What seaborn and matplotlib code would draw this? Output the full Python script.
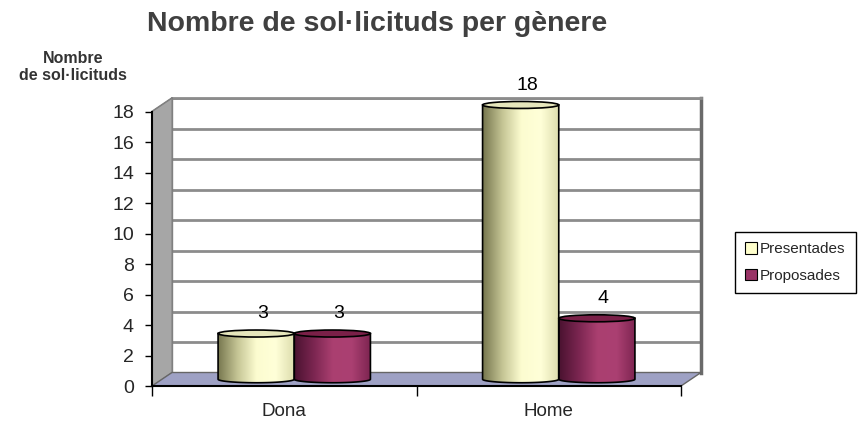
import numpy as np
import pandas as pd
import matplotlib
matplotlib.use("Agg")
import matplotlib.pyplot as plt
import seaborn as sns
from matplotlib.patches import Polygon, Ellipse, PathPatch, Patch
from matplotlib.lines import Line2D
from matplotlib.path import Path
from matplotlib.colors import LinearSegmentedColormap

# data
genere = ["Dona", "Home"]
series = ["Presentades", "Proposades"]
presentades = [3, 18]
proposades = [3, 4]
yticks = list(range(0, 20, 2))

df = pd.DataFrame({
    "genere": genere * 2,
    "tipus": [series[0]] * len(genere) + [series[1]] * len(genere),
    "valor": presentades + proposades,
})

sns.set_theme(style="white")
plt.rcParams["font.family"] = ["Liberation Sans", "DejaVu Sans"]

W, H = 865, 423
fig = plt.figure(figsize=(W / 100, H / 100), dpi=100)
fig.patch.set_facecolor("white")

# pseudo-3d box geometry (pixels from top-left)
x_left, x_right = 152, 681
y_zero, y_top = 386, 111.7
dx, dy = 20, -13.5
unit = (y_zero - y_top) / 18


def frac(x, y):
    return x / W, 1 - y / H


def box_axes(depth, ylo, yhi, z):
    left = x_left + depth * dx
    right = x_right + depth * dx
    ybot = y_zero + depth * dy - ylo * unit
    ytop = y_zero + depth * dy - yhi * unit
    l, b = frac(left, ybot)
    ax = fig.add_axes([l, b, (right - left) / W, (ybot - ytop) / H], zorder=z)
    ax.set_xlim(-0.5, len(genere) - 0.5)
    ax.set_ylim(ylo, yhi)
    return ax


# back wall with gridlines
ax_back = box_axes(1, 0, 18, 0)
ax_back.set_facecolor("white")
ax_back.set_yticks(yticks)
ax_back.set_xticks([])
ax_back.tick_params(left=False, labelleft=False)
ax_back.grid(axis="y", color="#8c8c8c", lw=2)
ax_back.spines["bottom"].set_visible(False)
ax_back.spines["top"].set(color="#8c8c8c", lw=2)
ax_back.spines["left"].set(color="#808080", lw=1)
ax_back.spines["right"].set(color="#6a6a6a", lw=2.5)

# side wall and floor
wall = Polygon([frac(x_left, y_top), frac(x_left + dx, y_top + dy),
                frac(x_left + dx, y_zero + dy), frac(x_left, y_zero)],
               closed=True, transform=fig.transFigure, fc="#a6a6a6",
               ec="#808080", lw=0.8, zorder=1)
fig.patches.append(wall)
for v in yticks:
    fig.lines.append(Line2D([x_left / W, (x_left + dx) / W],
                            [1 - (y_zero - v * unit) / H, 1 - (y_zero + dy - v * unit) / H],
                            transform=fig.transFigure, color="#7a7a7a", lw=1.5, zorder=1))
floor = Polygon([frac(x_left, y_zero), frac(x_right, y_zero),
                 frac(x_right + dx, y_zero + dy), frac(x_left + dx, y_zero + dy)],
                closed=True, transform=fig.transFigure, fc="#9ea1c4",
                ec="#666666", lw=1, zorder=1)
fig.patches.append(floor)

# cylinders, drawn half way into the box
ax_mid = box_axes(0.5, -1, 19, 2)
colors = {"Presentades": "#ffffcc", "Proposades": "#993366"}
sns.barplot(data=df, x="genere", y="valor", hue="tipus", palette=colors,
            width=0.576, gap=0, saturation=1, legend=False, ax=ax_mid)

styles = [
    (LinearSegmentedColormap.from_list("pres", ["#77774f", "#c4c494", "#fcfcd0", "#ffffd8", "#dcdcac"]), "#e6e6bc"),
    (LinearSegmentedColormap.from_list("prop", ["#4a1230", "#7a2550", "#aa3f70", "#ab4072", "#7c2450"]), "#7a2048"),
]
b = 3.5 / unit
t = np.linspace(np.pi, 2 * np.pi, 40)
grad = np.linspace(0, 1, 256).reshape(1, -1)
for cont, (cmap, top) in zip(ax_mid.containers, styles):
    for bar in cont:
        x0, w, h = bar.get_x(), bar.get_width(), bar.get_height()
        bar.set_facecolor("none")
        bar.set_edgecolor("none")
        cx = x0 + w / 2
        verts = [(x0, h)] + list(zip(cx + w / 2 * np.cos(t), b * np.sin(t))) + [(x0 + w, h), (x0, h)]
        body = PathPatch(Path(verts, closed=True), fc="none", ec="black", lw=1.2, zorder=3)
        ax_mid.add_patch(body)
        im = ax_mid.imshow(grad, cmap=cmap, aspect="auto", extent=(x0, x0 + w, -b, h),
                           interpolation="bicubic", zorder=2)
        im.set_clip_path(body)
        ax_mid.add_patch(Ellipse((cx, h), w, 2 * b, fc=top, ec="black", lw=1.2, zorder=4))
    labels = ax_mid.bar_label(cont, padding=8, fontsize=14, color="black")
    for lab in labels:
        lab.xyann = (4.5, lab.xyann[1])
ax_mid.set_xlim(-0.5, len(genere) - 0.5)
ax_mid.set_ylim(-1, 19)
ax_mid.axis("off")
ax_mid.patch.set_alpha(0)

# front axes: ticks and labels
ax = box_axes(0, 0, 18, 3)
ax.patch.set_alpha(0)
ax.set_yticks(yticks)
ax.set_xticks(range(len(genere)))
ax.set_xticklabels(genere)
ax.set_xticks([i - 0.5 for i in range(len(genere) + 1)], minor=True)
for side in ["top", "right"]:
    ax.spines[side].set_visible(False)
for side in ["left", "bottom"]:
    ax.spines[side].set(color="black", lw=1.5)
ax.tick_params(axis="y", left=True, length=5, width=1, color="black", labelsize=14, pad=8)
ax.tick_params(axis="x", which="major", bottom=True, length=0, labelsize=13.5, pad=12)
ax.tick_params(axis="x", which="minor", bottom=True, length=7, width=1, color="black")
ax.set_xlabel("")
ax.set_ylabel("")

fig.text(*frac(377.5, 24), "Nombre de sol·licituds per gènere", ha="center", va="center",
         fontsize=20.5, fontweight="bold", color="#404040")
fig.text(*frac(73, 67), "Nombre\nde sol·licituds", ha="center", va="center",
         fontsize=11.5, fontweight="bold", color="#333333", linespacing=1.15)

handles = [Patch(fc=colors[s], ec="black", lw=0.8, label=s) for s in series]
leg = fig.legend(handles=handles, loc="center", bbox_to_anchor=frac(795.5, 262.5),
                 fontsize=11, handlelength=0.75, handleheight=0.75, handletextpad=0.2,
                 labelspacing=0.8, borderpad=0.7, fancybox=False, framealpha=1,
                 edgecolor="black")
leg.get_frame().set_linewidth(1)

fig.savefig("out.png", dpi=100)
